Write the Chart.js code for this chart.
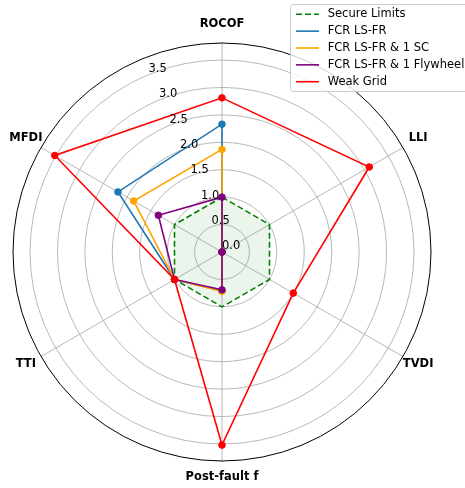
<!DOCTYPE html>
<html>
<head>
<meta charset="utf-8">
<script src="https://cdn.jsdelivr.net/npm/chart.js@4/dist/chart.umd.min.js"></script>
<style>
  html, body { margin: 0; padding: 0; background: #ffffff; }
  #wrap { width: 465px; height: 488px; }
</style>
</head>
<body>
<div id="wrap"><canvas id="c" width="465" height="488"></canvas></div>
<script>
// Stability metrics around the radar
const metrics = ['ROCOF', 'LLI', 'TVDI', 'Post-fault f', 'TTI', 'MFDI'];

// Series values, one per metric
const secureLimits     = [1.0, 1.0, 1.0, 1.0, 1.0, 1.0];
const fcrLsFr          = [2.33, 0.0, 0.0, 0.71, 1.0, 2.19];
const fcrLsFrSc        = [1.87, 0.0, 0.0, 0.72, 1.0, 1.86];
const fcrLsFrFlywheel  = [1.0, 0.0, 0.0, 0.69, 1.0, 1.34];
const weakGrid         = [2.81, 3.10, 1.50, 3.52, 1.0, 3.52];

// Radial tick labels and axis extent
const radialTicks = [0.0, 0.5, 1.0, 1.5, 2.0, 2.5, 3.0, 3.5];
const radialMax = 3.81;

const FONT = "'DejaVu Sans', sans-serif";

// Outer frame, radial tick labels, metric labels and legend
const decorations = {
  id: 'decorations',
  beforeDatasetsDraw(chart) {
    const s = chart.scales.r;
    const ctx = chart.ctx;
    ctx.save();
    ctx.beginPath();
    ctx.arc(s.xCenter, s.yCenter, s.getDistanceFromCenterForValue(radialMax), 0, Math.PI * 2);
    ctx.strokeStyle = '#000000';
    ctx.lineWidth = 1;
    ctx.stroke();
    ctx.restore();
  },
  afterDatasetsDraw(chart) {
    const s = chart.scales.r;
    const ctx = chart.ctx;
    ctx.save();
    // radial tick labels along a ray 22.5 deg left of the top spoke
    const a = 22.5 * Math.PI / 180;
    ctx.font = '11.5px ' + FONT;
    ctx.fillStyle = '#000000';
    ctx.textAlign = 'left';
    ctx.textBaseline = 'bottom';
    radialTicks.forEach(v => {
      const r = s.getDistanceFromCenterForValue(v);
      ctx.fillText(v.toFixed(1), s.xCenter - r * Math.sin(a), s.yCenter - r * Math.cos(a));
    });
    // metric labels
    ctx.font = 'bold 11.5px ' + FONT;
    ctx.textAlign = 'center';
    ctx.textBaseline = 'middle';
    metrics.forEach((m, i) => {
      const p = s.getPointPosition(i, s.drawingArea + 17.5);
      ctx.fillText(m, p.x, p.y - 1);
    });
    ctx.restore();
  },
  afterDraw(chart) {
    const ctx = chart.ctx;
    ctx.save();
    // legend frame
    const bx = 290.5, by = 4.5, bw = 200, bh = 87;
    ctx.beginPath();
    ctx.roundRect(bx, by, bw, bh, 3);
    ctx.fillStyle = 'rgba(255,255,255,0.8)';
    ctx.fill();
    ctx.strokeStyle = '#cccccc';
    ctx.lineWidth = 1;
    ctx.stroke();
    ctx.font = '11.5px ' + FONT;
    ctx.textAlign = 'left';
    ctx.textBaseline = 'middle';
    chart.data.datasets.forEach((ds, i) => {
      const y = 14.3 + i * 16.85;
      ctx.beginPath();
      ctx.setLineDash(ds.borderDash || []);
      ctx.strokeStyle = ds.borderColor;
      ctx.lineWidth = ds.borderWidth;
      ctx.moveTo(296, y);
      ctx.lineTo(319, y);
      ctx.stroke();
      ctx.setLineDash([]);
      ctx.fillStyle = '#000000';
      ctx.fillText(ds.label, 327.7, y);
    });
    ctx.restore();
  }
};

function series(label, data, color, order) {
  return {
    label, data, order,
    borderColor: color,
    backgroundColor: color,
    borderWidth: 1.6,
    pointRadius: 3.3,
    pointBackgroundColor: color,
    pointBorderColor: color,
    pointBorderWidth: 1,
    fill: false,
    tension: 0
  };
}

new Chart(document.getElementById('c'), {
  type: 'radar',
  data: {
    labels: metrics,
    datasets: [
      {
        label: 'Secure Limits',
        data: secureLimits,
        order: 5,
        borderColor: '#008000',
        backgroundColor: 'rgba(0,128,0,0.08)',
        borderWidth: 1.6,
        borderDash: [6, 3],
        pointRadius: 0,
        fill: true,
        tension: 0
      },
      series('FCR LS-FR', fcrLsFr, '#1f77b4', 4),
      series('FCR LS-FR & 1 SC', fcrLsFrSc, '#ffa500', 3),
      series('FCR LS-FR & 1 Flywheel', fcrLsFrFlywheel, '#800080', 2),
      series('Weak Grid', weakGrid, '#ff0000', 1)
    ]
  },
  options: {
    responsive: false,
    animation: false,
    devicePixelRatio: 1,
    layout: { padding: { left: 13, right: 33, top: 43, bottom: 26 } },
    plugins: { legend: { display: false }, tooltip: { enabled: false } },
    scales: {
      r: {
        min: 0,
        max: radialMax,
        ticks: { display: false, stepSize: 0.5, includeBounds: false },
        pointLabels: { display: false },
        grid: { circular: true, color: '#b0b0b0', lineWidth: 0.9 },
        angleLines: { color: '#b0b0b0', lineWidth: 0.9 }
      }
    }
  },
  plugins: [decorations]
});
</script>
</body>
</html>
